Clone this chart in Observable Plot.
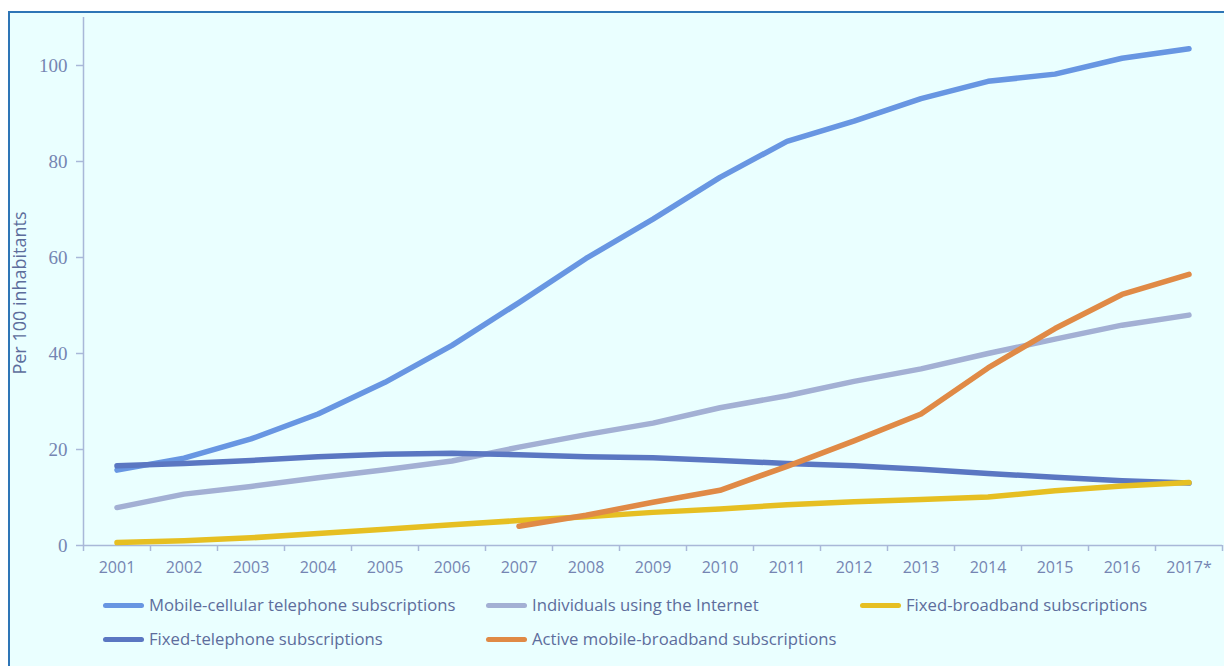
<!DOCTYPE html>
<html>
<head>
<meta charset="utf-8">
<script src="https://cdn.jsdelivr.net/npm/d3@7"></script>
<script src="https://cdn.jsdelivr.net/npm/@observablehq/plot@0.6"></script>
<style>
  html, body { margin: 0; padding: 0; background: #ffffff; width: 1224px; height: 666px; overflow: hidden; }
  #frame {
    position: absolute; left: 8px; top: 11px; width: 1214px; height: 653px;
    border-left: 2px solid #2e75b6; border-top: 2px solid #2e75b6;
    background: #eaffff;
  }
  #chart { position: absolute; left: 0; top: 0; }
  .leg { position: absolute; font-family: "Open Sans", sans-serif; font-size: 16.7px; color: #5d6d9c; white-space: nowrap; line-height: 22px; }
  .sw { position: absolute; height: 5px; width: 41px; border-radius: 3px; }
  #ylabel {
    position: absolute; left: 9px; top: 280px; width: 0; height: 0;
  }
  #ylabel span {
    position: absolute; transform: translate(-50%, -50%) rotate(-90deg);
    font-family: "Open Sans", sans-serif; font-size: 18px; color: #5d6d9c; white-space: nowrap; line-height: 22px;
  }
</style>
</head>
<body>
<div id="frame">
  <div id="chart"></div>
  <div id="ylabel"><span></span></div>
  <div id="legend"></div>
</div>
<script>
const years = d3.range(2001, 2018);
const yearLabels = ["2001","2002","2003","2004","2005","2006","2007","2008","2009","2010","2011","2012","2013","2014","2015","2016","2017*"];
const mobileCellular = [15.7, 18.2, 22.2, 27.4, 34.0, 41.7, 50.6, 59.8, 68.0, 76.7, 84.2, 88.4, 93.1, 96.7, 98.2, 101.5, 103.5];
const internetUsers  = [7.9, 10.7, 12.3, 14.1, 15.8, 17.6, 20.5, 23.1, 25.5, 28.7, 31.2, 34.2, 36.8, 40.0, 43.0, 45.9, 48.0];
const fixedTelephone = [16.6, 17.1, 17.7, 18.5, 19.0, 19.2, 18.9, 18.5, 18.3, 17.7, 17.1, 16.6, 15.9, 15.0, 14.2, 13.5, 13.0];
const fixedBroadband = [0.6, 1.0, 1.6, 2.5, 3.4, 4.3, 5.2, 6.0, 6.9, 7.6, 8.5, 9.1, 9.6, 10.1, 11.4, 12.4, 13.1];
const activeMobileBB = [null, null, null, null, null, null, 4.0, 6.3, 9.0, 11.5, 16.5, 21.8, 27.4, 37.0, 45.2, 52.3, 56.5];
const yTicks = [0, 20, 40, 60, 80, 100];
const yAxisLabel = "Per 100 inhabitants";

const seriesNames = [
  "Mobile-cellular telephone subscriptions",
  "Individuals using the Internet",
  "Fixed-broadband subscriptions",
  "Fixed-telephone subscriptions",
  "Active mobile-broadband subscriptions"
];
const seriesColors = ["#6896e2", "#a3b0d4", "#e6bf22", "#5b77c2", "#e08a46"];
const seriesValues = [mobileCellular, internetUsers, fixedBroadband, fixedTelephone, activeMobileBB];

const toPts = (vals) => years.map((y, i) => ({year: y, value: vals[i]})).filter(d => d.value != null);

const drawOrder = [1, 0, 3, 2, 4];
const lineMarks = drawOrder.map(k => Plot.line(toPts(seriesValues[k]), {
  x: "year", y: "value", stroke: seriesColors[k], strokeWidth: 5.5,
  strokeLinecap: "round", strokeLinejoin: "round"
}));

const axisColor = "#a9b8d8";
const tickText = "#7585b2";

const chart = Plot.plot({
  width: 1214,
  height: 570,
  marginLeft: 73,
  marginRight: 2,
  marginTop: 4,
  marginBottom: 38,
  style: { background: "transparent", overflow: "visible" },
  x: { type: "linear", domain: [2000.5, 2017.5], label: null },
  y: { domain: [0, 110], label: null },
  marks: [
    Plot.ruleY([0], { stroke: axisColor, strokeWidth: 1.5 }),
    Plot.ruleX([2000.5], { y1: 0, y2: 110, stroke: axisColor, strokeWidth: 1.5 }),
    Plot.axisX(d3.range(2000.5, 2018.5, 1), { tickSize: 6, tickFormat: () => "", stroke: axisColor, strokeWidth: 1.5, label: null }),
    Plot.axisX(years, { tickSize: 0, tickPadding: 16, tickFormat: (d) => yearLabels[years.indexOf(d)], fill: tickText,
      fontSize: 16, fontFamily: "Open Sans", label: null }),
    Plot.axisY(yTicks, { tickSize: 7, tickPadding: 9, stroke: axisColor, strokeWidth: 1.5, fill: tickText,
      fontSize: 19, fontFamily: "Liberation Serif", label: null }),
    ...lineMarks
  ]
});
document.getElementById("chart").appendChild(chart);
document.querySelector("#ylabel span").textContent = yAxisLabel;

// legend (positions relative to frame, frame content origin at page (10,13))
const legendLayout = [
  {k: 0, x: 93, y: 592},
  {k: 1, x: 476, y: 592},
  {k: 2, x: 850, y: 592},
  {k: 3, x: 93, y: 626},
  {k: 4, x: 476, y: 626}
];
const legend = document.getElementById("legend");
legendLayout.forEach(({k, x, y}) => {
  const sw = document.createElement("div");
  sw.className = "sw";
  sw.style.left = x + "px";
  sw.style.top = (y - 2) + "px";
  sw.style.background = seriesColors[k];
  legend.appendChild(sw);
  const t = document.createElement("div");
  t.className = "leg";
  t.style.left = (x + 46) + "px";
  t.style.top = (y - 11) + "px";
  t.textContent = seriesNames[k];
  legend.appendChild(t);
});
</script>
</body>
</html>
